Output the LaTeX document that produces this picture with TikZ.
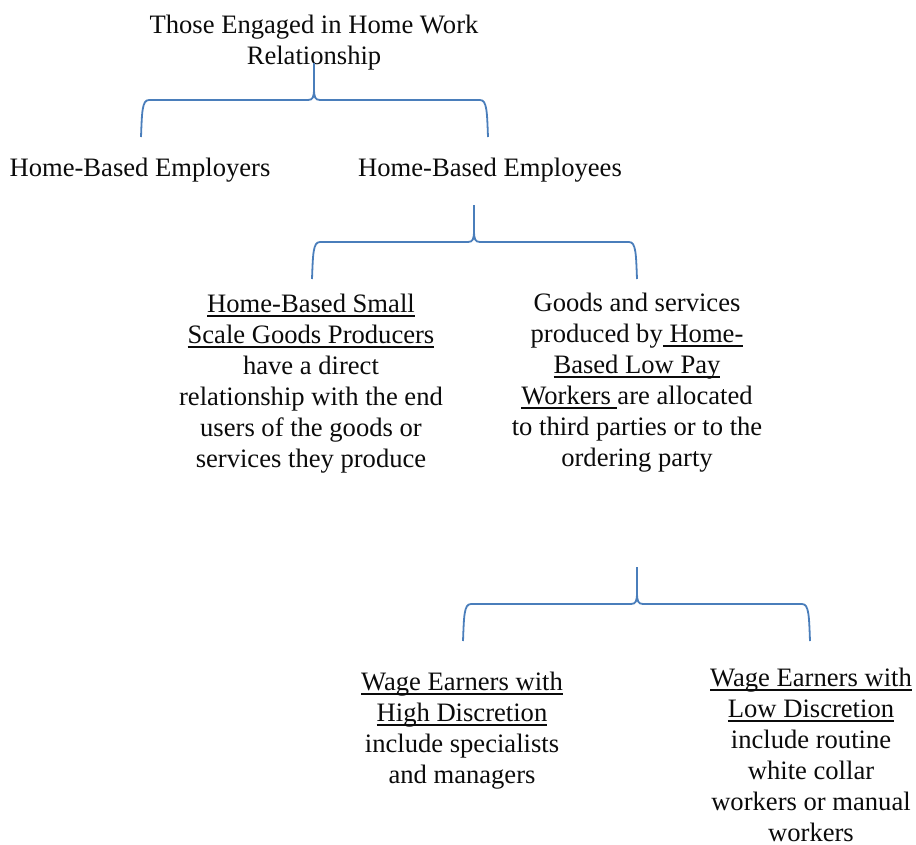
\documentclass[tikz,border=0pt]{standalone}
\usepackage{fontspec}
\setmainfont{Liberation Serif}
\usepackage{tikz}
\usetikzlibrary{positioning}
\definecolor{line1}{HTML}{4A7EBB}
\definecolor{ink}{HTML}{0B0B0B}
% underline at a fixed depth, spaces kept
\newcommand{\ul}[1]{\setbox0\hbox{#1}\rlap{\rule[-4pt]{\wd0}{1.4pt}}\box0}

\begin{document}
\begin{tikzpicture}[x=1pt,y=-1pt,font=\fontsize{26.6}{31}\selectfont,
  txt/.style={ink,align=center,inner sep=0pt},
  bracket/.style={line1,line width=1.8pt}]
  \useasboundingbox (0,0) rectangle (916,844);
  % levels of the classification
  \node[txt] (top) at (314,43) {Those Engaged in Home Work\\Relationship};
  \node[txt] (employers) at (140,170) {Home-Based Employers};
  \node[txt] (employees) at (490,170) {Home-Based Employees};
  \node[txt] (producers) at (311,384) {\ul{Home-Based Small}\\\ul{Scale Goods Producers}\\have a direct\\relationship with the end\\users of the goods or\\services they produce};
  \node[txt] (lowpay) at (637,383) {Goods and services\\produced by\ul{ Home-}\\\ul{Based Low Pay}\\\ul{Workers }are allocated\\to third parties or to the\\ordering party};
  \node[txt] (highdisc) at (462,731) {\ul{Wage Earners with}\\\ul{High Discretion}\\include specialists\\and managers};
  \node[txt] (lowdisc) at (811,755) {\ul{Wage Earners with}\\\ul{Low Discretion}\\include routine\\white collar\\workers or manual\\workers};
  % braces: tip x / bar y / left end / right end
  \foreach \tx/\hy/\lx/\rx in {314/100/141/488, 474/242/312/637, 637/604/463/810} {
    \draw[bracket] (\lx,\hy+37) .. controls (\lx+1,\hy+12) and (\lx+1,\hy) .. (\lx+8,\hy)
      -- (\tx-6,\hy) .. controls (\tx-1,\hy) and (\tx,\hy-3) .. (\tx,\hy-12) -- (\tx,\hy-37);
    \draw[bracket] (\rx,\hy+37) .. controls (\rx-1,\hy+12) and (\rx-1,\hy) .. (\rx-8,\hy)
      -- (\tx+6,\hy) .. controls (\tx+1,\hy) and (\tx,\hy-3) .. (\tx,\hy-12);
  }
\end{tikzpicture}
\end{document}
